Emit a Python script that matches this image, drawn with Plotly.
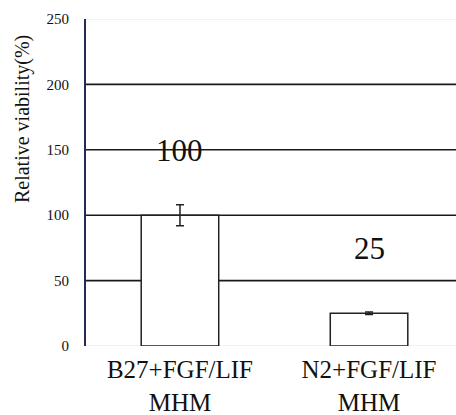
import plotly.graph_objects as go

# Relative viability of cells in two culture media
categories = ["B27+FGF/LIF<br>MHM", "N2+FGF/LIF<br>MHM"]
viability = [100, 25]
viability_err = [8, 1]
tick_values = [0, 50, 100, 150, 200, 250]
grid_dark = [50, 100, 150, 200]
grid_faint = [0, 250]

serif = "Times New Roman"
x_pos = list(range(len(categories)))

fig = go.Figure()
fig.add_trace(go.Bar(
    x=x_pos,
    y=viability,
    width=0.41,
    marker=dict(color="white", line=dict(color="#222222", width=1.5)),
    error_y=dict(type="data", array=viability_err, visible=True,
                 color="#222222", thickness=1.5, width=4),
    showlegend=False,
))

shapes = []
for g in grid_dark:
    shapes.append(dict(type="line", xref="paper", yref="y", x0=0, x1=1, y0=g, y1=g,
                       line=dict(color="#1a1a1a", width=1.6), layer="below"))
for g in grid_faint:
    shapes.append(dict(type="line", xref="paper", yref="y", x0=0, x1=1, y0=g, y1=g,
                       line=dict(color="#e6e6e6", width=1.2), layer="below"))

annotations = []
for xi, v in zip(x_pos, viability):
    annotations.append(dict(x=xi, y=v, xref="x", yref="y", text=str(v),
                            showarrow=False, yshift=65,
                            font=dict(family=serif, size=31, color="#111111")))

# y-axis title as a rotated annotation, sitting above the plot's mid-height
annotations.append(dict(x=-0.173, y=0.694, xref="paper", yref="paper",
                        text="Relative viability(%)", textangle=-90, showarrow=False,
                        xanchor="center", yanchor="middle",
                        font=dict(family=serif, size=20, color="#111111")))

fig.update_layout(
    width=456, height=415,
    margin=dict(l=86, r=0, t=19, b=69),
    paper_bgcolor="white", plot_bgcolor="white",
    shapes=shapes,
    annotations=annotations,
    xaxis=dict(range=[-0.497, 1.46], tickvals=x_pos, ticktext=categories,
               showgrid=False, zeroline=False, showline=False, ticks="",
               ticklabelstandoff=6,
               tickfont=dict(family=serif, size=25, color="#111111")),
    yaxis=dict(range=[0, 250], tickvals=tick_values, showgrid=False, zeroline=False,
               showline=True, linecolor="#232a55", linewidth=2, ticks="",
               ticklabelstandoff=12,
               tickfont=dict(family=serif, size=15, color="#111111")),
)

fig.write_html("out.html")
